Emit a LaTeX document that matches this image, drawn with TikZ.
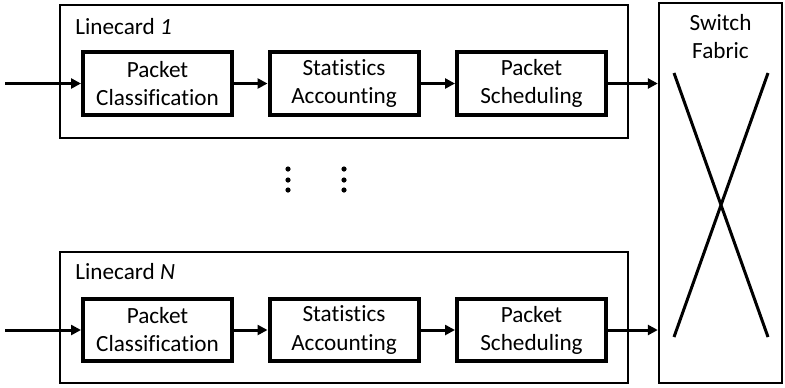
\documentclass[tikz,border=0pt]{standalone}
\usepackage{fontspec}
\setmainfont[Ligatures={NoCommon}, RawFeature={-liga}]{Carlito}
\usetikzlibrary{arrows.meta}
\tikzset{
  card/.style={draw, line width=1pt, minimum width=284pt, inner sep=0pt},
  stage/.style={draw, line width=2pt, minimum width=74.5pt, minimum height=31.5pt,
    align=center, inner sep=0pt, font=\fontsize{11.6}{14}\selectfont},
  label/.style={anchor=west, inner sep=0pt, font=\fontsize{11.6}{14}\selectfont},
  flow/.style={line width=1.5pt, -{Triangle[length=5pt,width=5pt]}}
}
\begin{document}
\begin{tikzpicture}[x=0.5pt, y=-0.5pt]
      \useasboundingbox (0,0) rectangle (785,387);
      \draw
        (344,71.5) node[card, minimum height=66.5pt] (lc1){}
        (344,317.5) node[card, minimum height=65.5pt] (lcN){}
        (720.5,193) node[draw, line width=1.2pt, minimum width=61.5pt, minimum height=190pt] (sf){}
        (75,27) node[label] (t1){Linecard \textit{1}}
        (75,272) node[label] (tN){Linecard \textit{N}}
        (720.5,37) node[align=center, inner sep=0pt, font=\fontsize{11.6}{14}\selectfont] (ts){Switch\\Fabric}
        (157.5,83.5) node[stage] (pc1){Packet\\Classification}
        (344,83.5) node[stage] (sa1){Statistics\\Accounting}
        (531.5,83.5) node[stage] (ps1){Packet\\Scheduling}
        (157.5,330) node[stage, minimum height=31pt] (pcN){Packet\\Classification}
        (344,330) node[stage, minimum height=31pt] (saN){Statistics\\Accounting}
        (531.5,330) node[stage, minimum height=31pt] (psN){Packet\\Scheduling};
      \coordinate (in1) at (5,83.5);
      \coordinate (inN) at (5,330);
      \coordinate (x1) at (674,73);
      \coordinate (x2) at (768,73);
      \coordinate (x3) at (674,337);
      \coordinate (x4) at (768,337);
      \begin{scope}[flow]
        \draw (in1) to (pc1);
        \draw (pc1) to (sa1);
        \draw (sa1) to (ps1);
        \draw (ps1.east) to (ps1.east -| sf.west);
        \draw (inN) to (pcN);
        \draw (pcN) to (saN);
        \draw (saN) to (psN);
        \draw (psN.east) to (psN.east -| sf.west);
      \end{scope}
      \draw[line width=1.5pt] (x1) -- (x4) (x2) -- (x3);
      \foreach \x in {288,344}
        \foreach \y in {169,180,190}
          \fill (\x,\y) circle (2.6);
    \end{tikzpicture}
\end{document}
